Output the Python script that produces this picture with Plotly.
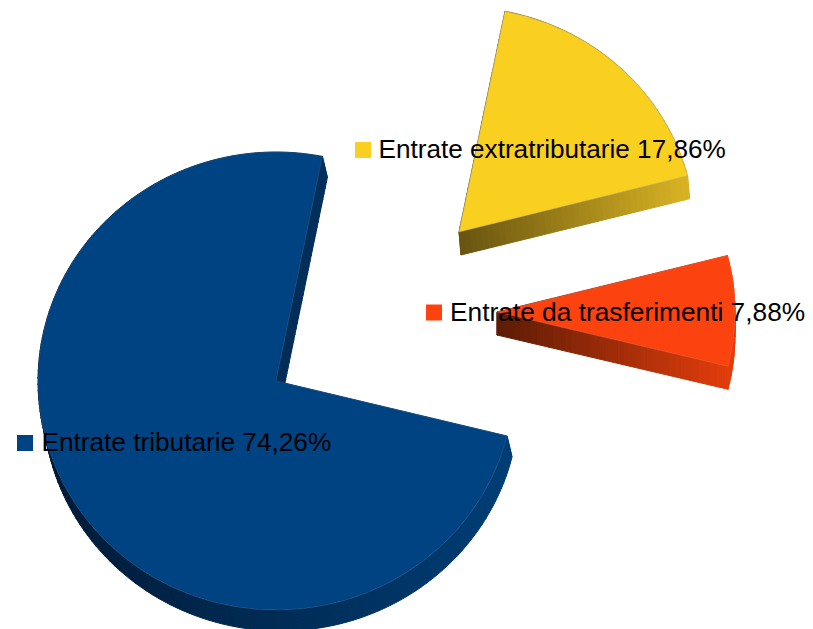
import math
import plotly.graph_objects as go

# Data
categories = ["Entrate tributarie", "Entrate extratributarie", "Entrate da trasferimenti"]
shares = [74.26, 17.86, 7.88]
share_labels = ["74,26%", "17,86%", "7,88%"]

# Style
top_colors = ["#004383", "#F9CF20", "#FC420E"]
rim_dark = [(0, 26, 54), (104, 84, 16), (92, 28, 6)]
rim_light = [(0, 62, 118), (218, 180, 36), (230, 62, 12)]
edge_colors = ["rgba(120,130,150,0.25)", "rgba(175,170,150,0.55)", "rgba(220,120,90,0.4)"]

W, H = 813, 629
PAGE_MARGIN = 8  # the page body's default margin
START_ANGLE = 103.9
RADII = [(238, 229), (236, 225), (238, 226)]
CENTERS = [(276, 381), (459, 232), (497, 312)]
DEPTHS = [(5, 21), (2, 23), (0, 23)]
LABEL_SQUARES = [(25, 443), (363, 150), (434, 312.5)]
LABEL_TEXT_X = [41.5, 378.5, 450]
LABEL_TEXT_Y = [444, 151.5, 314]
LABEL_SIZES = [26.2, 26.15, 26.3]
N_PER_100DEG = 60
N_SIDE = 40


def pt(i, deg):
    cx, cy = CENTERS[i]
    a, b = RADII[i]
    t = math.radians(deg)
    return cx + a * math.sin(t), cy - b * math.cos(t)


def off(i, p):
    return p[0] + DEPTHS[i][0], p[1] + DEPTHS[i][1]


def shade(i, x, xmin, xmax):
    f = max(0.0, min(1.0, (x - xmin) / (xmax - xmin)))
    d, l = rim_dark[i], rim_light[i]
    return "rgb(%d,%d,%d)" % tuple(d[k] + (l[k] - d[k]) * f for k in range(3))


def poly(xs, ys, fill, line=None, width=1):
    return go.Scatter(
        x=xs, y=ys, mode="lines", fill="toself", fillcolor=fill,
        line=dict(color=line or fill, width=width), hoverinfo="skip", showlegend=False,
    )


fig = go.Figure()
spans = []
angle = START_ANGLE
for v in shares:
    spans.append((angle, angle + v * 3.6))
    angle += v * 3.6

# rims and cut faces behind the top faces
for i, (a0, a1) in enumerate(spans):
    n = max(6, int((a1 - a0) / 100 * N_PER_100DEG))
    arc = [pt(i, a0 + (a1 - a0) * k / n) for k in range(n + 1)]
    xs_all = [p[0] for p in arc] + [CENTERS[i][0]]
    xmin, xmax = min(xs_all), max(xs_all)
    apex = CENTERS[i]
    for e in (arc[0], arc[-1]):
        for k in range(N_SIDE):
            p = (apex[0] + (e[0] - apex[0]) * k / N_SIDE, apex[1] + (e[1] - apex[1]) * k / N_SIDE)
            q = (apex[0] + (e[0] - apex[0]) * (k + 1) / N_SIDE, apex[1] + (e[1] - apex[1]) * (k + 1) / N_SIDE)
            po, qo = off(i, p), off(i, q)
            c = shade(i, (p[0] + q[0]) / 2, xmin, xmax)
            fig.add_trace(poly([p[0], q[0], qo[0], po[0], p[0]], [p[1], q[1], qo[1], po[1], p[1]], c))
    for k in range(n):
        p, q = arc[k], arc[k + 1]
        po, qo = off(i, p), off(i, q)
        c = shade(i, (p[0] + q[0]) / 2, xmin, xmax)
        fig.add_trace(poly([p[0], q[0], qo[0], po[0], p[0]], [p[1], q[1], qo[1], po[1], p[1]], c))

# top faces
for i, (a0, a1) in enumerate(spans):
    n = int((a1 - a0) * 1.5)
    arc = [pt(i, a0 + (a1 - a0) * k / n) for k in range(n + 1)]
    xs = [CENTERS[i][0]] + [p[0] for p in arc] + [CENTERS[i][0]]
    ys = [CENTERS[i][1]] + [p[1] for p in arc] + [CENTERS[i][1]]
    fig.add_trace(poly(xs, ys, top_colors[i], edge_colors[i], 0.8))

# legend-like labels
fig.add_trace(go.Scatter(
    x=[p[0] for p in LABEL_SQUARES], y=[p[1] for p in LABEL_SQUARES], mode="markers",
    marker=dict(symbol="square", size=16, color=top_colors, line=dict(width=0)),
    hoverinfo="skip", showlegend=False,
))
fig.add_trace(go.Scatter(
    x=LABEL_TEXT_X, y=LABEL_TEXT_Y, mode="text",
    text=[f"{c} {s}" for c, s in zip(categories, share_labels)],
    textposition="middle right",
    textfont=dict(family="Liberation Sans", size=LABEL_SIZES, color="#000000"),
    hoverinfo="skip", showlegend=False,
))

fig.update_layout(
    width=W - PAGE_MARGIN, height=H - PAGE_MARGIN, margin=dict(l=0, r=0, t=0, b=0),
    paper_bgcolor="white", plot_bgcolor="white", showlegend=False,
    xaxis=dict(range=[PAGE_MARGIN, W], visible=False, fixedrange=True),
    yaxis=dict(range=[H, PAGE_MARGIN], visible=False, fixedrange=True),
)
fig.write_html("out.html", config={"displayModeBar": False})
